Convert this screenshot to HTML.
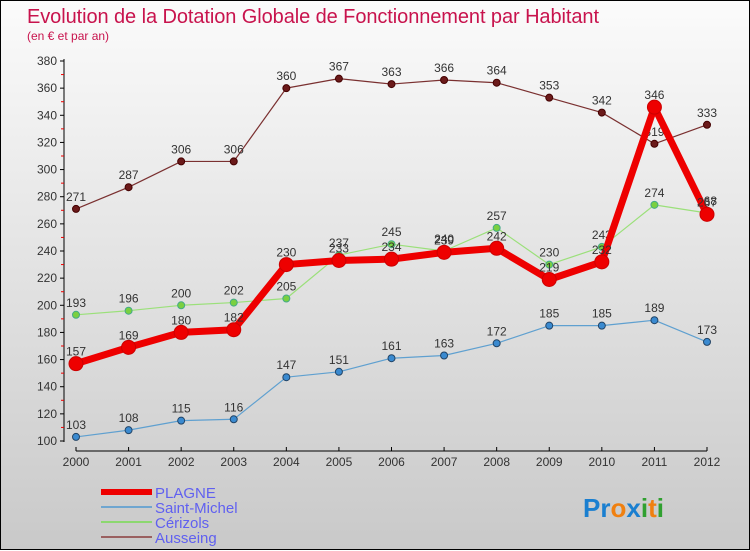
<!DOCTYPE html>
<html><head><meta charset="utf-8"><style>
body{margin:0;width:750px;height:550px;overflow:hidden;font-family:"Liberation Sans",sans-serif}
#wrap{position:relative;width:748px;height:548px;border:1px solid #000;background:linear-gradient(#fbfbfb,#c9c9c9)}
svg{position:absolute;left:0;top:0}
</style></head><body>
<div id="wrap">
<svg id="c" width="750" height="550">
<text x="26" y="22" font-size="20" fill="#c8134d" textLength="572">Evolution de la Dotation Globale de Fonctionnement par Habitant</text>
<text x="26" y="39" font-size="12" fill="#c8134d">(en € et par an)</text>
</svg>
</div>
<script>
const years=[2000,2001,2002,2003,2004,2005,2006,2007,2008,2009,2010,2011,2012];
const yTicks=[100,120,140,160,180,200,220,240,260,280,300,320,340,360,380];
const plagne=[157,169,180,182,230,233,234,239,242,219,232,346,267];
const saintMichel=[103,108,115,116,147,151,161,163,172,185,185,189,173];
const cerizols=[193,196,200,202,205,237,245,240,257,230,243,274,268];
const ausseing=[271,287,306,306,360,367,363,366,364,353,342,319,333];
const svg=document.getElementById('c');const NS='http://www.w3.org/2000/svg';
const X=i=>75+i*(706-75)/12;const Y=v=>440-(v-100)*(380/280);
function mk(t,a,p){const e=document.createElementNS(NS,t);for(const k in a)e.setAttribute(k,a[k]);(p||svg).appendChild(e);return e;}
const ax=mk('g',{});


mk('line',{x1:63,y1:58,x2:63,y2:441,stroke:'#000'},ax);
mk('line',{x1:75,y1:450,x2:706,y2:450,stroke:'#000'},ax);
for(let v=110;v<380;v+=20)mk('line',{x1:60,y1:Y(v),x2:63,y2:Y(v),stroke:'#e00'},ax);
yTicks.forEach(v=>{mk('line',{x1:59,y1:Y(v),x2:63,y2:Y(v),stroke:'#000'},ax);
const t=mk('text',{x:56,y:Y(v)+4,'font-size':12,fill:'#333','text-anchor':'end'},ax);t.textContent=v;

});
years.forEach((y,i)=>{mk('line',{x1:X(i),y1:446,x2:X(i),y2:450,stroke:'#000'},ax);
const t=mk('text',{x:X(i),y:465,'font-size':12,fill:'#333','text-anchor':'middle'},ax);t.textContent=y;

});
function series(d,name,color,w,r,fill,stroke){
const g=mk('g',{});


mk('polyline',{points:d.map((v,i)=>X(i)+','+Y(v)).join(' '),fill:'none',stroke:color,'stroke-width':w,'stroke-linejoin':'round'},g);
d.forEach((v,i)=>{const c=mk('circle',{cx:X(i),cy:Y(v),r:r,fill:fill,stroke:stroke,'stroke-width':1},g);


const t=mk('text',{x:X(i),y:Y(v)-8,'font-size':12,fill:'#333','text-anchor':'middle'},g);t.textContent=v;

});}
series(ausseing,'ausseing','#7a3030',1.2,3.5,'#6b1a1a','#400');
series(saintMichel,'saint-michel','#5fa0d0',1.2,3.5,'#3a8ad0','#246');
series(cerizols,'cerizols','#9be07a',1.2,3.5,'#7ad040','#4a8');
series(plagne,'plagne','#ee0000',7,7,'#ee0000','#c00');
const lg=[['PLAGNE','#ee0000',6],['Saint-Michel','#6fa6d0',2],['Cérizols','#8cd870',2],['Ausseing','#9a6060',2]];
lg.forEach((l,i)=>{const y=491+i*15;const g=mk('g',{});


mk('line',{x1:100,y1:y,x2:151,y2:y,stroke:l[1],'stroke-width':l[2]},g);
const t=mk('text',{x:154,y:y+6,'font-size':15,fill:'#6060f0'},g);t.textContent=l[0];});
const lo=mk('text',{x:582,y:516,'font-size':26,'font-weight':'bold'});


[['Pr','#1a7fd0'],['o','#f08010'],['x','#1a7fd0'],['i','#30a030'],['t','#f08010'],['i','#30a030']].forEach(p=>{const s=mk('tspan',{fill:p[1]},lo);s.textContent=p[0];});
</script>
</body></html>
